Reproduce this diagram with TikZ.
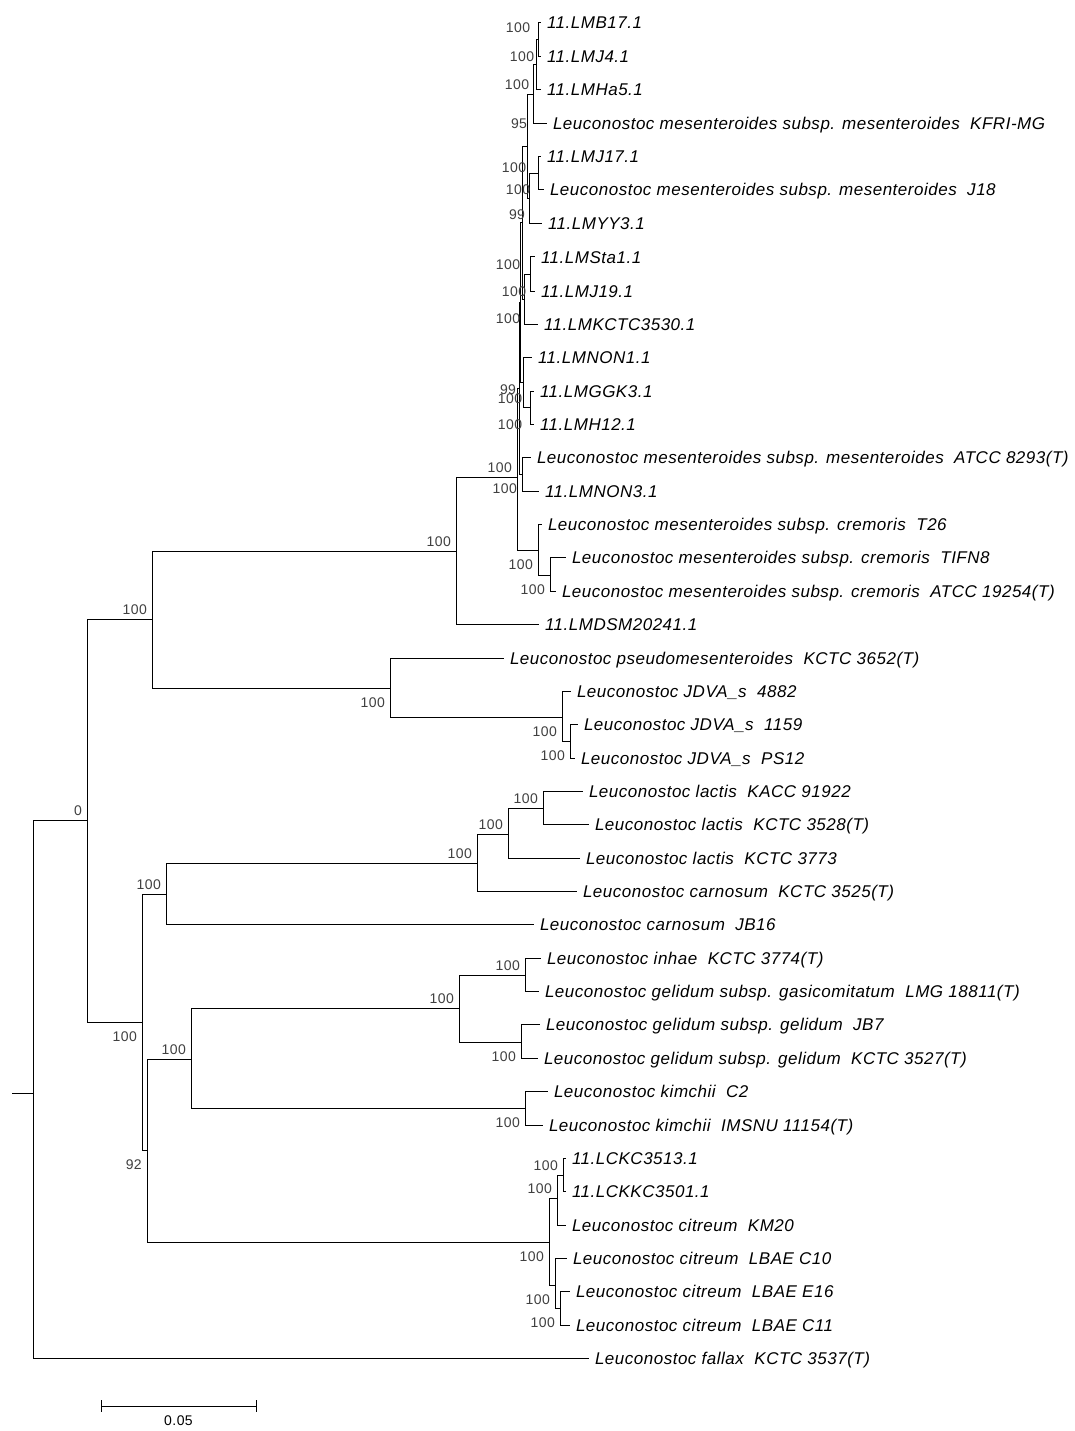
\documentclass[tikz,border=0pt]{standalone}
\usepackage{fontspec}
\setmainfont{Liberation Sans}[LetterSpace=3]
\usetikzlibrary{positioning,calc}
\tikzset{leaf/.style={
  anchor=west,
  inner xsep=6pt,
  inner ysep=0pt,
  outer sep=0pt,
  text height=12pt,
  text depth=0pt,
  font=\fontsize{17}{20}\selectfont\itshape,
  },
  boot/.style={
  inner sep=0pt,
  text=black!75,
  font=\fontsize{14}{16}\selectfont,
  },
  branch/.style={line width=1pt}
}

\begin{document}
\begin{tikzpicture}[x=1pt,y=-1pt]
  \useasboundingbox (0,0) rectangle (1074,1431);

  % internal nodes
  \coordinate (base) at (12,1093);
  \coordinate (root) at (33,1093);
  \coordinate (core) at (87,820);
  \coordinate (mesgrp) at (152,619);
  \coordinate (mesdsm) at (456,551);
  \coordinate (mes) at (517,477);
  \coordinate (m1) at (538,40);
  \coordinate (m2) at (536,65);
  \coordinate (m3) at (533,95);
  \coordinate (m4) at (527,147);
  \coordinate (m5) at (538,174);
  \coordinate (m6) at (529,199);
  \coordinate (m7) at (530,274);
  \coordinate (m8) at (524,299);
  \coordinate (m9) at (522,223);
  \coordinate (m10) at (530,407);
  \coordinate (m11) at (523,382);
  \coordinate (m12) at (520,302);
  \coordinate (m13) at (522,474);
  \coordinate (m14) at (519,388);
  \coordinate (cre) at (538,550);
  \coordinate (cre2) at (550,575);
  \coordinate (pse) at (390,688);
  \coordinate (jdv) at (562,717);
  \coordinate (jdv2) at (570,741);
  \coordinate (lcg) at (142,1022);
  \coordinate (carn) at (166,894);
  \coordinate (lac3) at (477,863);
  \coordinate (lac2) at (508,834);
  \coordinate (lac1) at (543,808);
  \coordinate (lowgrp) at (147,1150);
  \coordinate (gelk) at (191,1059);
  \coordinate (gel) at (459,1008);
  \coordinate (ginh) at (525,975);
  \coordinate (ggel) at (521,1042);
  \coordinate (kim) at (525,1108);
  \coordinate (cit) at (549,1242);
  \coordinate (cit1) at (557,1198);
  \coordinate (cit0) at (563,1175);
  \coordinate (cit2) at (555,1285);
  \coordinate (cit3) at (560,1308);

  % leaves
  \node[leaf] (l1) at (541,23) {11.LMB17.1};
  \node[leaf] (l2) at (541,57) {11.LMJ4.1};
  \node[leaf] (l3) at (541,90) {11.LMHa5.1};
  \node[leaf] (l4) at (547,124) {Leuconostoc mesenteroides subsp. mesenteroides~~KFRI-MG};
  \node[leaf] (l5) at (541,157) {11.LMJ17.1};
  \node[leaf] (l6) at (544,190) {Leuconostoc mesenteroides subsp. mesenteroides~~J18};
  \node[leaf] (l7) at (542,224) {11.LMYY3.1};
  \node[leaf] (l8) at (535,257) {11.LMSta1.1};
  \node[leaf] (l9) at (535,291) {11.LMJ19.1};
  \node[leaf] (l10) at (538,324) {11.LMKCTC3530.1};
  \node[leaf] (l11) at (532,357) {11.LMNON1.1};
  \node[leaf] (l12) at (534,391) {11.LMGGK3.1};
  \node[leaf] (l13) at (534,424) {11.LMH12.1};
  \node[leaf] (l14) at (531,457) {Leuconostoc mesenteroides subsp. mesenteroides~~ATCC 8293(T)};
  \node[leaf] (l15) at (539,491) {11.LMNON3.1};
  \node[leaf] (l16) at (542,524) {Leuconostoc mesenteroides subsp. cremoris~~T26};
  \node[leaf] (l17) at (566,557) {Leuconostoc mesenteroides subsp. cremoris~~TIFN8};
  \node[leaf] (l18) at (556,591) {Leuconostoc mesenteroides subsp. cremoris~~ATCC 19254(T)};
  \node[leaf] (l19) at (539,624) {11.LMDSM20241.1};
  \node[leaf] (l20) at (504,658) {Leuconostoc pseudomesenteroides~~KCTC 3652(T)};
  \node[leaf] (l21) at (571,691) {Leuconostoc JDVA\_s~~4882};
  \node[leaf] (l22) at (578,724) {Leuconostoc JDVA\_s~~1159};
  \node[leaf] (l23) at (575,758) {Leuconostoc JDVA\_s~~PS12};
  \node[leaf] (l24) at (583,791) {Leuconostoc lactis~~KACC 91922};
  \node[leaf] (l25) at (589,824) {Leuconostoc lactis~~KCTC 3528(T)};
  \node[leaf] (l26) at (580,858) {Leuconostoc lactis~~KCTC 3773};
  \node[leaf] (l27) at (577,891) {Leuconostoc carnosum~~KCTC 3525(T)};
  \node[leaf] (l28) at (534,924) {Leuconostoc carnosum~~JB16};
  \node[leaf] (l29) at (541,958) {Leuconostoc inhae~~KCTC 3774(T)};
  \node[leaf] (l30) at (539,991) {Leuconostoc gelidum subsp. gasicomitatum~~LMG 18811(T)};
  \node[leaf] (l31) at (540,1024) {Leuconostoc gelidum subsp. gelidum~~JB7};
  \node[leaf] (l32) at (538,1058) {Leuconostoc gelidum subsp. gelidum~~KCTC 3527(T)};
  \node[leaf] (l33) at (548,1091) {Leuconostoc kimchii~~C2};
  \node[leaf] (l34) at (543,1125) {Leuconostoc kimchii~~IMSNU 11154(T)};
  \node[leaf] (l35) at (566,1158) {11.LCKC3513.1};
  \node[leaf] (l36) at (566,1191) {11.LCKKC3501.1};
  \node[leaf] (l37) at (566,1225) {Leuconostoc citreum~~KM20};
  \node[leaf] (l38) at (567,1258) {Leuconostoc citreum~~LBAE C10};
  \node[leaf] (l39) at (570,1291) {Leuconostoc citreum~~LBAE E16};
  \node[leaf] (l40) at (570,1325) {Leuconostoc citreum~~LBAE C11};
  \node[leaf] (l41) at (589,1358) {Leuconostoc fallax~~KCTC 3537(T)};

  % branches
  \draw[branch] (base) -- (root);
  \draw[branch] (root) |- (core) (root) |- (l41.west);
  \draw[branch] (core) |- (mesgrp) (core) |- (lcg);
  \draw[branch] (mesgrp) |- (mesdsm) (mesgrp) |- (pse);
  \draw[branch] (mesdsm) |- (mes) (mesdsm) |- (l19.west);
  \draw[branch] (mes) |- (m14) (mes) |- (cre);
  \draw[branch] (m14) |- (m12) (m14) |- (m13);
  \draw[branch] (m12) |- (m9) (m12) |- (m11);
  \draw[branch] (m9) |- (m4) (m9) |- (m8);
  \draw[branch] (m4) |- (m3) (m4) |- (m6);
  \draw[branch] (m3) |- (m2) (m3) |- (l4.west);
  \draw[branch] (m2) |- (m1) (m2) |- (l3.west);
  \draw[branch] (m1) |- (l1.west) (m1) |- (l2.west);
  \draw[branch] (m6) |- (m5) (m6) |- (l7.west);
  \draw[branch] (m5) |- (l5.west) (m5) |- (l6.west);
  \draw[branch] (m8) |- (m7) (m8) |- (l10.west);
  \draw[branch] (m7) |- (l8.west) (m7) |- (l9.west);
  \draw[branch] (m11) |- (l11.west) (m11) |- (m10);
  \draw[branch] (m10) |- (l12.west) (m10) |- (l13.west);
  \draw[branch] (m13) |- (l14.west) (m13) |- (l15.west);
  \draw[branch] (cre) |- (l16.west) (cre) |- (cre2);
  \draw[branch] (cre2) |- (l17.west) (cre2) |- (l18.west);
  \draw[branch] (pse) |- (l20.west) (pse) |- (jdv);
  \draw[branch] (jdv) |- (l21.west) (jdv) |- (jdv2);
  \draw[branch] (jdv2) |- (l22.west) (jdv2) |- (l23.west);
  \draw[branch] (lcg) |- (carn) (lcg) |- (lowgrp);
  \draw[branch] (carn) |- (lac3) (carn) |- (l28.west);
  \draw[branch] (lac3) |- (lac2) (lac3) |- (l27.west);
  \draw[branch] (lac2) |- (lac1) (lac2) |- (l26.west);
  \draw[branch] (lac1) |- (l24.west) (lac1) |- (l25.west);
  \draw[branch] (lowgrp) |- (gelk) (lowgrp) |- (cit);
  \draw[branch] (gelk) |- (gel) (gelk) |- (kim);
  \draw[branch] (gel) |- (ginh) (gel) |- (ggel);
  \draw[branch] (ginh) |- (l29.west) (ginh) |- (l30.west);
  \draw[branch] (ggel) |- (l31.west) (ggel) |- (l32.west);
  \draw[branch] (kim) |- (l33.west) (kim) |- (l34.west);
  \draw[branch] (cit) |- (cit1) (cit) |- (cit2);
  \draw[branch] (cit1) |- (cit0) (cit1) |- (l37.west);
  \draw[branch] (cit0) |- (l35.west) (cit0) |- (l36.west);
  \draw[branch] (cit2) |- (l38.west) (cit2) |- (cit3);
  \draw[branch] (cit3) |- (l39.west) (cit3) |- (l40.west);

  % bootstrap values
  \node[boot] (bm1) at (518,28) {100};
  \node[boot] (bm2) at (522,57) {100};
  \node[boot] (bm3) at (517,85) {100};
  \node[boot] (bm4) at (519,124) {95};
  \node[boot] (bm5) at (514,168) {100};
  \node[boot] (bm6) at (518,190) {100};
  \node[boot] (bm7) at (517,215) {99};
  \node[boot] (bm8) at (508,265) {100};
  \node[boot] (bm9) at (514,292) {100};
  \node[boot] (bm10) at (508,319) {100};
  \node[boot] (bm11) at (508,390) {99};
  \node[boot] (bm12) at (510,399) {100};
  \node[boot] (bm13) at (510,425) {100};
  \node[boot, above left=4pt and 5pt] (bmes) at (mes) {100};
  \node[boot, below left=10pt and 5pt] (bm14) at (m13) {100};
  \node[boot, below left=10pt and 5pt] (bcre) at (cre) {100};
  \node[boot, below left=10pt and 5pt] (bcre2) at (cre2) {100};
  \node[boot, above left=4pt and 5pt] (bmesdsm) at (mesdsm) {100};
  \node[boot, above left=4pt and 5pt] (bmesgrp) at (mesgrp) {100};
  \node[boot, below left=10pt and 5pt] (bpse) at (pse) {100};
  \node[boot, below left=10pt and 5pt] (bjdv) at (jdv) {100};
  \node[boot, below left=10pt and 5pt] (bjdv2) at (jdv2) {100};
  \node[boot, above left=4pt and 5pt] (bcore) at (core) {0};
  \node[boot, above left=4pt and 5pt] (blac1) at (lac1) {100};
  \node[boot, above left=4pt and 5pt] (blac2) at (lac2) {100};
  \node[boot, above left=4pt and 5pt] (blac3) at (lac3) {100};
  \node[boot, above left=4pt and 5pt] (bcarn) at (carn) {100};
  \node[boot, below left=10pt and 5pt] (blcg) at (lcg) {100};
  \node[boot, below left=10pt and 5pt] (blowgrp) at (lowgrp) {92};
  \node[boot, above left=4pt and 5pt] (bgelk) at (gelk) {100};
  \node[boot, above left=4pt and 5pt] (bgel) at (gel) {100};
  \node[boot, above left=4pt and 5pt] (bginh) at (ginh) {100};
  \node[boot, below left=10pt and 5pt] (bggel) at (ggel) {100};
  \node[boot, below left=10pt and 5pt] (bkim) at (kim) {100};
  \node[boot, below left=10pt and 5pt] (bcit) at (cit) {100};
  \node[boot, above left=4pt and 5pt] (bcit1) at (cit1) {100};
  \node[boot, above left=4pt and 5pt] (bcit0) at (cit0) {100};
  \node[boot, below left=10pt and 5pt] (bcit2) at (cit2) {100};
  \node[boot, below left=10pt and 5pt] (bcit3) at (cit3) {100};

  % scale bar
  \coordinate (s0) at (101,1406);
  \coordinate (s1) at (256,1406);
  \draw[branch] (s0) -- (s1);
  \draw[branch] ([yshift=6pt]s0) -- ([yshift=-6pt]s0);
  \draw[branch] ([yshift=6pt]s1) -- ([yshift=-6pt]s1);
  \node[boot, text=black, below=10pt] (sbar) at ($(s0)!0.5!(s1)$) {0.05};
\end{tikzpicture}
\end{document}
